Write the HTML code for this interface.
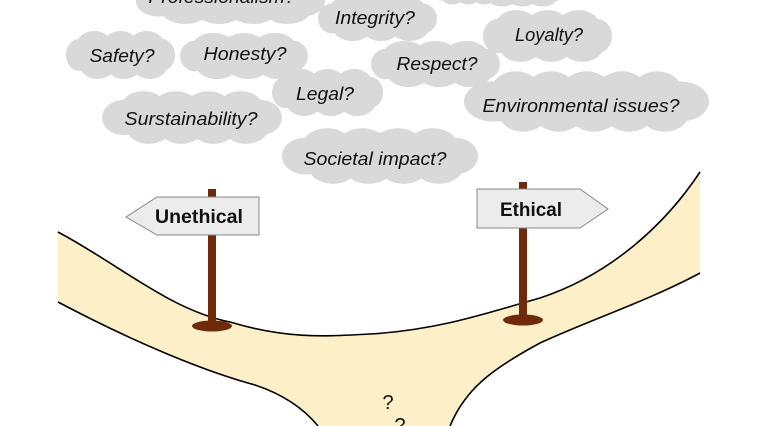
<!DOCTYPE html>
<html><head><meta charset="utf-8"><style>
html,body{margin:0;padding:0;background:#fff;width:758px;height:426px;overflow:hidden}
svg{display:block}
text{font-family:"Liberation Sans",sans-serif}
.c{font-style:italic;font-size:18px;fill:#111}
</style></head><body>
<svg id="s" width="758" height="426" viewBox="0 0 758 426">
<g id="clouds" fill="#d9d9d9"></g>
<!-- road -->
<path d="M58,232 C120,265 170,310 230,322 C290,340 330,336 370,334 C440,330 490,312 540,298 C610,275 665,225 700,172 L700,273 C650,300 590,320 540,343 C490,370 465,390 450,426 L318,426 C305,410 285,395 255,385 C200,370 130,340 58,302 Z" fill="#fdf0c8"/>
<path d="M58,232 C120,265 170,310 230,322 C290,340 330,336 370,334 C440,330 490,312 540,298 C610,275 665,225 700,172" fill="none" stroke="#000" stroke-width="1.6"/>
<path d="M58,302 C130,340 200,370 255,385 C285,395 305,410 318,426" fill="none" stroke="#000" stroke-width="1.6"/>
<path d="M700,273 C650,300 590,320 540,343 C490,370 465,390 450,426" fill="none" stroke="#000" stroke-width="1.6"/>
<!-- poles -->
<rect x="208" y="189" width="8" height="137" fill="#6e2a0a"/>
<ellipse cx="212" cy="326" rx="20" ry="5.5" fill="#6e2a0a"/>
<rect x="519" y="182" width="8" height="138" fill="#6e2a0a"/>
<ellipse cx="523" cy="320" rx="20" ry="5.5" fill="#6e2a0a"/>
<!-- signs -->
<polygon points="126,217 157,197 259,197 259,235 157,235" fill="#ececec" stroke="#888" stroke-width="1"/>
<text x="199" y="223" font-size="19" font-weight="bold" text-anchor="middle" fill="#111" textLength="88" lengthAdjust="spacingAndGlyphs">Unethical</text>
<polygon points="477,189 580,189 608,209 580,228 477,228" fill="#ececec" stroke="#888" stroke-width="1"/>
<text x="531" y="216" font-size="19" font-weight="bold" text-anchor="middle" fill="#111" textLength="62" lengthAdjust="spacingAndGlyphs">Ethical</text>
<text x="388" y="409" font-size="20" text-anchor="middle" fill="#111">?</text>
<text x="400" y="432" font-size="20" text-anchor="middle" fill="#111">?</text>
<!-- labels -->
<text class="c" x="222" y="3" text-anchor="middle" textLength="147" lengthAdjust="spacingAndGlyphs">Professionalism?</text>
<text class="c" x="375" y="24" text-anchor="middle" textLength="80" lengthAdjust="spacingAndGlyphs">Integrity?</text>
<text class="c" x="549" y="41" text-anchor="middle" textLength="68" lengthAdjust="spacingAndGlyphs">Loyalty?</text>
<text class="c" x="122" y="62" text-anchor="middle" textLength="65" lengthAdjust="spacingAndGlyphs">Safety?</text>
<text class="c" x="245" y="60" text-anchor="middle" textLength="83" lengthAdjust="spacingAndGlyphs">Honesty?</text>
<text class="c" x="437" y="70" text-anchor="middle" textLength="81" lengthAdjust="spacingAndGlyphs">Respect?</text>
<text class="c" x="325" y="100" text-anchor="middle" textLength="58" lengthAdjust="spacingAndGlyphs">Legal?</text>
<text class="c" x="191" y="125" text-anchor="middle" textLength="133" lengthAdjust="spacingAndGlyphs">Surstainability?</text>
<text class="c" x="581" y="112" text-anchor="middle" textLength="197" lengthAdjust="spacingAndGlyphs">Environmental issues?</text>
<text class="c" x="375" y="165" text-anchor="middle" textLength="143" lengthAdjust="spacingAndGlyphs">Societal impact?</text>
</svg>
<script>
var boxes=[[136,-22,325,25],[318,-5,437,42],[433,-20,500,5],[478,-20,562,7],[483,9,612,63],[66,30,175,80],[180,32,308,80],[371,40,500,88],[272,68,383,117],[102,90,282,145],[464,70,709,133],[282,127,478,185]];
var g=document.getElementById('clouds'),ns='http://www.w3.org/2000/svg';
function el(cx,cy,rx,ry){var e=document.createElementNS(ns,'ellipse');e.setAttribute('cx',cx);e.setAttribute('cy',cy);e.setAttribute('rx',rx);e.setAttribute('ry',ry);g.appendChild(e);}
boxes.forEach(function(b){var w=b[2]-b[0],h=b[3]-b[1],cx=(b[0]+b[2])/2,cy=(b[1]+b[3])/2;
el(cx,cy,w*0.47,h*0.4);
var n=Math.max(3,Math.round(w/50));
for(var i=0;i<n;i++){var t=(i+0.5)/n;var x=b[0]+w*(0.14+0.72*t);var r=w*0.8/(n*1.6);
el(x,b[1]+h*0.32,r,h*0.3);el(x+w*0.03,b[3]-h*0.32,r,h*0.3);}
el(b[0]+w*0.12,cy,w*0.12,h*0.32);el(b[2]-w*0.12,cy,w*0.12,h*0.32);});
</script>
</body></html>
